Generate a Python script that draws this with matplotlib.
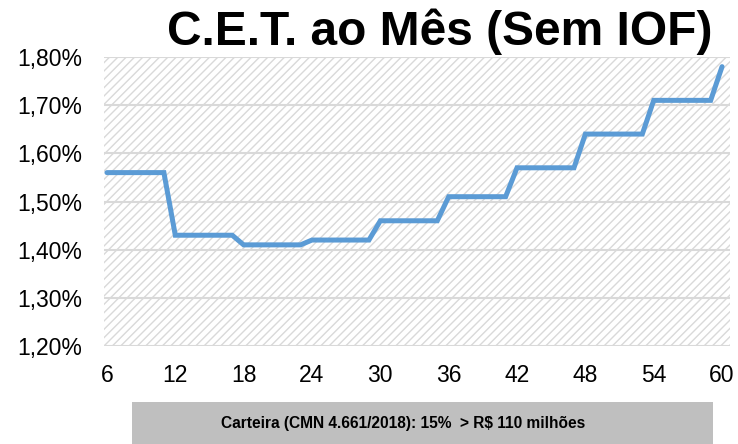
import matplotlib
matplotlib.use('Agg')
import matplotlib.pyplot as plt
from matplotlib.patches import Rectangle
from matplotlib.ticker import FuncFormatter

# prazo em meses (6 a 60) e C.E.T. mensal em %
months = list(range(6, 61))
cet = ([1.56] * 6 + [1.43] * 6 + [1.41] * 6 + [1.42] * 6 + [1.46] * 6 +
       [1.51] * 6 + [1.57] * 6 + [1.64] * 6 + [1.71] * 6 + [1.78])
xticks = list(range(6, 61, 6))
yticks = [1.20, 1.30, 1.40, 1.50, 1.60, 1.70, 1.80]

title = 'C.E.T. ao Mês (Sem IOF)'
footer = 'Carteira (CMN 4.661/2018): 15%  > R$ 110 milhões'

plt.rcParams['font.family'] = ['Liberation Sans', 'DejaVu Sans']
plt.rcParams['hatch.color'] = '#d9d9d9'
plt.rcParams['hatch.linewidth'] = 1.0

fig = plt.figure(figsize=(7.38, 4.44), dpi=100)
ax = fig.add_axes([0.1409, 0.2207, 0.8483, 0.6509])

ax.add_patch(Rectangle((0, 0), 1, 1, transform=ax.transAxes, facecolor='white',
                       edgecolor='#d9d9d9', hatch='////', linewidth=0, zorder=0))
for y in yticks:
    ax.axhline(y, color='#d9d9d9', linewidth=1.5, zorder=1)

ax.plot(months, cet, color='#5b9bd5', linewidth=3.6, solid_joinstyle='miter',
        solid_capstyle='round', zorder=3)

ax.set_xlim(5.74, 60.7)
ax.set_ylim(1.20, 1.80)
ax.set_xticks(xticks)
ax.set_yticks(yticks)
ax.yaxis.set_major_formatter(FuncFormatter(lambda v, p: f'{v:.2f}%'.replace('.', ',')))
ax.tick_params(length=0, labelsize=16.5, colors='black')
ax.tick_params(axis='y', pad=16)
ax.tick_params(axis='x', pad=13)
for s in ax.spines.values():
    s.set_visible(False)
ax.set_facecolor('none')

fig.text(0.596, 0.8986, title, ha='center', va='baseline', fontsize=34.5,
         fontweight='bold')

fig.patches.append(Rectangle((132 / 738, 0), 581 / 738, 42 / 444,
                             transform=fig.transFigure, facecolor='#bfbfbf',
                             edgecolor='none'))
fig.text(0.546, 0.047, footer, ha='center', va='center', fontsize=11.2,
         fontweight='bold')

fig.savefig('out.png', dpi=100)
